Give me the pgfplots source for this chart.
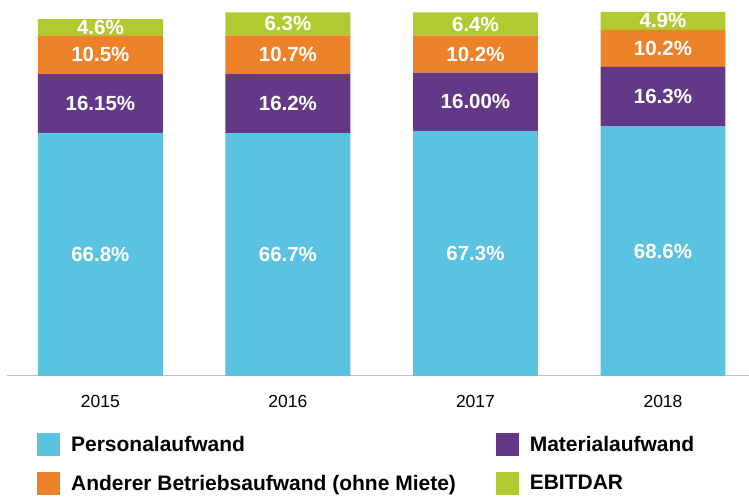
\documentclass[border=0pt]{standalone}
\usepackage{fontspec}
\setmainfont{Liberation Sans}
\usepackage{pgfplots}
\usepackage{pgfplotstable}
\pgfplotsset{compat=1.18}

\definecolor{cPers}{HTML}{5BC2E2}
\definecolor{cMat}{HTML}{633887}
\definecolor{cAnd}{HTML}{EE8229}
\definecolor{cEbit}{HTML}{B2CA32}

% shares of total cost, per year
\pgfplotstableread{
x year pers mat and ebit
0 2015 66.8 16.15 10.5 4.6
1 2016 66.7 16.2 10.7 6.3
2 2017 67.3 16.00 10.2 6.4
3 2018 68.6 16.3 10.2 4.9
}\data

\begin{document}
\begin{tikzpicture}
\begin{axis}[
    width=742pt, height=364pt, scale only axis,
    xmin=-0.498, xmax=3.456,
    ymin=0, ymax=100,
    ybar stacked,
    bar width=125pt,
    axis x line=bottom,
    axis y line=none,
    x axis line style={-, draw=black!25, line width=1pt},
    xtick={0,1,2,3},
    xticklabels={2015,2016,2017,2018},
    major tick length=0pt,
    xticklabel style={font=\fontsize{17.5}{20}\selectfont, yshift=-16pt},
    ytick=\empty,
    point meta=explicit symbolic,
    nodes near coords={\pgfplotspointmeta\%},
    every node near coord/.append style={
        font=\fontsize{20.5}{24}\selectfont\bfseries,
        text=white, anchor=center,
    },
    legend columns=2,
    legend style={
        at={(axis description cs:0.0404,-0.157)},
        anchor=north west,
        draw=none, fill=none, inner sep=0pt,
        row sep=16pt, column sep=0pt,
        nodes={inner sep=0pt, font=\fontsize{21}{25}\selectfont\bfseries},
        cells={anchor=west},
    },
    legend image code/.code={
        \fill[#1, draw=none] (0pt,-11.5pt) rectangle (23pt,11.5pt);
        \path (34pt,0pt);
    },
]
\addplot[fill=cPers, draw=none] table[x=x, y=pers, meta=pers] {\data};
\addlegendentry{\makebox[425pt][l]{Personalaufwand}}
\addplot[fill=cMat, draw=none] table[x=x, y=mat, meta=mat] {\data};
\addlegendentry{Materialaufwand}
\addplot[fill=cAnd, draw=none] table[x=x, y=and, meta=and] {\data};
\addlegendentry{\makebox[425pt][l]{Anderer Betriebsaufwand (ohne Miete)}}
\addplot[fill=cEbit, draw=none] table[x=x, y=ebit, meta=ebit] {\data};
\addlegendentry{EBITDAR}
\end{axis}
\path ([xshift=-7pt,yshift=12pt]current axis.north west)
      ([yshift=-122pt]current axis.south east);
\end{tikzpicture}
\end{document}
